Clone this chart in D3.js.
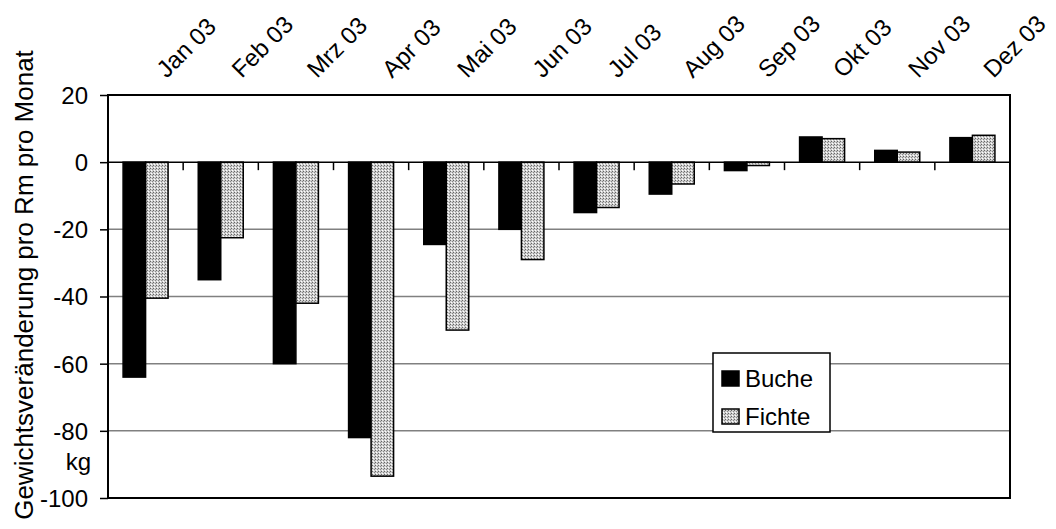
<!DOCTYPE html>
<html lang="de">
<head>
<meta charset="utf-8">
<title>Gewichtsveränderung</title>
<script src="https://cdn.jsdelivr.net/npm/d3@7"></script>
<style>
  body { margin: 0; background: #fff; }
  text { font-family: "Liberation Sans", Arial, sans-serif; }
</style>
</head>
<body>
<svg></svg>
<script>
    const months = ['Jan 03', 'Feb 03', 'Mrz 03', 'Apr 03', 'Mai 03', 'Jun 03',
                    'Jul 03', 'Aug 03', 'Sep 03', 'Okt 03', 'Nov 03', 'Dez 03'];
    const buche  = [-64, -35, -60, -82, -24.5, -20, -15, -9.5, -2.5, 7.5, 3.5, 7.3];
    const fichte = [-40.5, -22.5, -42, -93.5, -50, -29, -13.5, -6.5, -1, 7, 3, 8];
    const series = ['Buche', 'Fichte'];
    const yTicks = [20, 0, -20, -40, -60, -80, -100];

    const width = 1056, height = 529;
    const plot = { left: 108, right: 1010, top: 95, bottom: 498 };
    const fontSize = '24px';

    let svg = d3.select('svg')
        .attr('width', width)
        .attr('height', height);

    // dotted grey fill used for Fichte
    let pat = svg.append('defs').append('pattern')
        .attr('id', 'dots')
        .attr('width', 3).attr('height', 3)
        .attr('patternUnits', 'userSpaceOnUse');
    pat.append('rect').attr('width', 3).attr('height', 3).attr('fill', '#cfcfcf');
    pat.append('rect').attr('x', 0).attr('y', 0).attr('width', 1).attr('height', 1).attr('fill', '#666');
    pat.append('rect').attr('x', 2).attr('y', 1).attr('width', 1).attr('height', 1).attr('fill', '#888');
    pat.append('rect').attr('x', 1).attr('y', 2).attr('width', 1).attr('height', 1).attr('fill', '#fff');

    let x = d3.scaleBand()
        .domain(months)
        .range([plot.left, plot.right]);

    let xInner = d3.scaleBand()
        .domain(series)
        .range([0, 45]);

    let y = d3.scaleLinear()
        .domain([-100, 20])
        .range([plot.bottom, plot.top]);

    // gridlines
    svg.append('g')
        .selectAll('line')
        .data([-20, -40, -60, -80])
        .enter()
        .append('line')
        .attr('x1', plot.left).attr('x2', plot.right)
        .attr('y1', d => y(d)).attr('y2', d => y(d))
        .style('stroke', '#808080')
        .style('stroke-width', 1.5);

    // y axis
    let yAxis = svg.append('g')
        .attr('transform', `translate(${plot.left},0)`)
        .call(d3.axisLeft(y).tickValues(yTicks).tickSize(8).tickPadding(12)
            .tickFormat(d => String(d)));
    yAxis.select('.domain').remove();
    yAxis.attr('font-size', null).attr('font-family', null);
    yAxis.selectAll('.tick line').style('stroke', '#000').style('stroke-width', 1.5);
    yAxis.selectAll('.tick text')
        .style('font-size', fontSize)
        .style('fill', '#000')
        .attr('dy', '0.35em');

    // bars
    const vals = { Buche: buche, Fichte: fichte };
    const barOffset = (x.bandwidth() - 45) / 2;
    series.forEach(s => {
        svg.append('g')
            .selectAll('rect')
            .data(months)
            .enter()
            .append('rect')
            .attr('x', (d, i) => x(d) + barOffset + xInner(s))
            .attr('width', xInner.bandwidth())
            .attr('y', (d, i) => y(Math.max(0, vals[s][i])))
            .attr('height', (d, i) => Math.abs(y(vals[s][i]) - y(0)))
            .attr('fill', s === 'Buche' ? '#000' : 'url(#dots)')
            .attr('stroke', '#000')
            .attr('stroke-width', 1.5);
    });

    // zero line with category ticks
    svg.append('line')
        .attr('x1', plot.left).attr('x2', plot.right)
        .attr('y1', y(0)).attr('y2', y(0))
        .style('stroke', '#000').style('stroke-width', 1.5);
    svg.append('g')
        .selectAll('line')
        .data(months.slice(1))
        .enter()
        .append('line')
        .attr('x1', d => x(d)).attr('x2', d => x(d))
        .attr('y1', y(0)).attr('y2', y(0) + 8)
        .style('stroke', '#000').style('stroke-width', 1.5);

    // frame
    svg.append('rect')
        .attr('x', plot.left).attr('y', plot.top)
        .attr('width', plot.right - plot.left)
        .attr('height', plot.bottom - plot.top)
        .attr('fill', 'none')
        .attr('stroke', '#000')
        .attr('stroke-width', 2);

    // month labels at top, rotated
    svg.append('g')
        .selectAll('text')
        .data(months)
        .enter()
        .append('text')
        .attr('transform', d => `translate(${x(d) + x.bandwidth() / 2 + 21},${plot.top - 16})rotate(-45)`)
        .style('font-size', fontSize)
        .text(d => d);

    // y title
    svg.append('text')
        .attr('transform', `translate(33,285)rotate(-90)`)
        .attr('text-anchor', 'middle')
        .style('font-size', '26px')
        .text('Gewichtsveränderung pro Rm pro Monat');

    svg.append('text')
        .attr('x', 91).attr('y', 470)
        .attr('text-anchor', 'end')
        .style('font-size', fontSize)
        .text('kg');

    // legend
    let legend = svg.append('g').attr('transform', 'translate(713,353)');
    legend.append('rect')
        .attr('width', 117).attr('height', 79)
        .attr('fill', '#fff')
        .attr('stroke', '#000')
        .attr('stroke-width', 1.5);
    series.forEach((s, i) => {
        legend.append('rect')
            .attr('x', 9).attr('y', 18 + i * 38)
            .attr('width', 17).attr('height', 15)
            .attr('fill', s === 'Buche' ? '#000' : 'url(#dots)')
            .attr('stroke', '#000').attr('stroke-width', 1.5);
        legend.append('text')
            .attr('x', 32).attr('y', 34 + i * 38)
            .style('font-size', fontSize)
            .text(s);
    });
</script>
</body>
</html>
